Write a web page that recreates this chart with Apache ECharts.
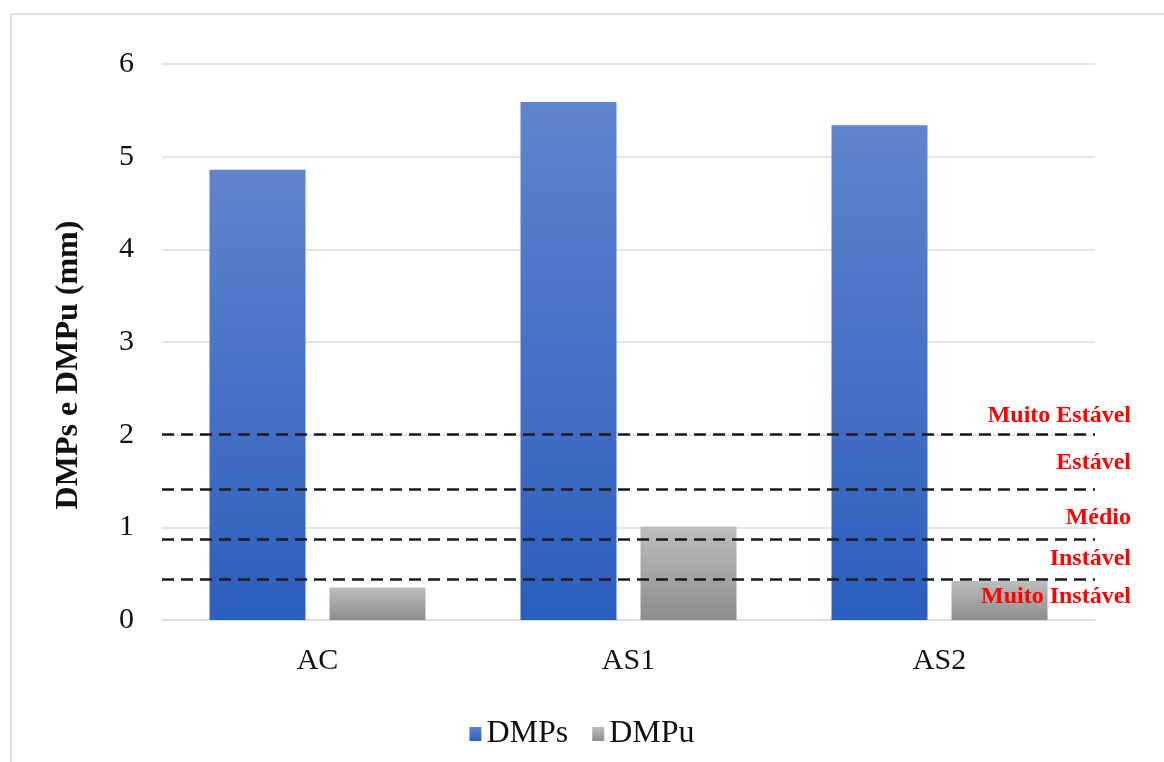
<!DOCTYPE html>
<html>
<head>
<meta charset="utf-8">
<script src="https://cdn.jsdelivr.net/npm/echarts@6/dist/echarts.min.js"></script>
<style>
  html, body { margin: 0; padding: 0; background: #fff; }
  #chart { width: 1164px; height: 762px; }
</style>
</head>
<body>
<div id="chart"></div>
<script>
// Aggregate stability per treatment
const categories = ['AC', 'AS1', 'AS2'];
const dmps = [4.86, 5.59, 5.34];
const dmpu = [0.35, 1.01, 0.42];
const yTicks = [0, 1, 2, 3, 4, 5, 6];

// Stability class thresholds (mm) and class names, top to bottom
const thresholds = [2.0, 1.41, 0.87, 0.44];
const classNames = ['Muito Estável', 'Estável', 'Médio', 'Instável', 'Muito Instável'];
const classLevels = [2.2, 1.70, 1.10, 0.66, 0.25];

const serif = '"Liberation Serif", "Times New Roman", serif';

const blueFill = new echarts.graphic.LinearGradient(0, 0, 0, 1, [
  { offset: 0, color: '#6084CD' },
  { offset: 1, color: '#2D5EBE' }
]);
const grayFill = new echarts.graphic.LinearGradient(0, 0, 0, 1, [
  { offset: 0, color: '#BDBDBD' },
  { offset: 1, color: '#8D8D8D' }
]);

const chart = echarts.init(document.getElementById('chart'), null, { renderer: 'canvas' });

const option = {
  backgroundColor: '#ffffff',
  animation: false,
  grid: { left: 162, right: 69, top: 64, bottom: 142, containLabel: false },
  legend: {
    bottom: 7,
    left: 'center',
    itemWidth: 12,
    itemHeight: 14,
    itemGap: 24,
    icon: 'rect',
    textStyle: { fontFamily: serif, fontSize: 32, color: '#111' },
    data: ['DMPs', 'DMPu']
  },
  xAxis: {
    type: 'category',
    data: categories,
    axisLine: { show: true, lineStyle: { color: '#D9DCE3', width: 1.5 } },
    axisTick: { show: false },
    axisLabel: { fontFamily: serif, fontSize: 30, color: '#111', margin: 26 }
  },
  yAxis: {
    type: 'value',
    min: yTicks[0],
    max: yTicks[yTicks.length - 1],
    interval: 1,
    name: 'DMPs e DMPu (mm)',
    nameLocation: 'middle',
    nameGap: 77,
    nameTextStyle: {
      fontFamily: serif, fontSize: 32, fontWeight: 'bold', color: '#111',
      padding: [0, 46, 0, 0]
    },
    axisLine: { show: false },
    axisTick: { show: false },
    axisLabel: { fontFamily: serif, fontSize: 30, color: '#111', margin: 28 },
    splitLine: { lineStyle: { color: '#D9DCE3', width: 1.5 } }
  },
  series: [
    {
      name: 'DMPs',
      type: 'bar',
      data: dmps,
      barWidth: 96,
      barGap: '25%',
      itemStyle: { color: blueFill },
      markLine: {
        silent: true,
        symbol: 'none',
        label: { show: false },
        lineStyle: { color: '#1a1a1a', type: [12, 7], width: 2.5 },
        data: thresholds.map(v => ({ yAxis: v }))
      },
      z: 2
    },
    {
      name: 'DMPu',
      type: 'bar',
      data: dmpu,
      barWidth: 96,
      itemStyle: { color: grayFill },
      z: 2
    }
  ]
};

chart.setOption(option);

// Class names on the right side, placed through the value axis
const classTexts = classNames.map((name, i) => ({
  type: 'text',
  z: 10,
  style: {
    text: name,
    x: 1131,
    y: chart.convertToPixel({ yAxisIndex: 0 }, classLevels[i]),
    align: 'right',
    verticalAlign: 'middle',
    fill: '#FF0000',
    font: 'bold 24px ' + serif
  }
}));

chart.setOption({
  graphic: [
    {
      type: 'rect',
      z: -1,
      shape: { x: 11, y: 14, width: 1200, height: 800 },
      style: { fill: 'none', stroke: '#DDE0E8', lineWidth: 2 }
    }
  ].concat(classTexts)
});
</script>
</body>
</html>
